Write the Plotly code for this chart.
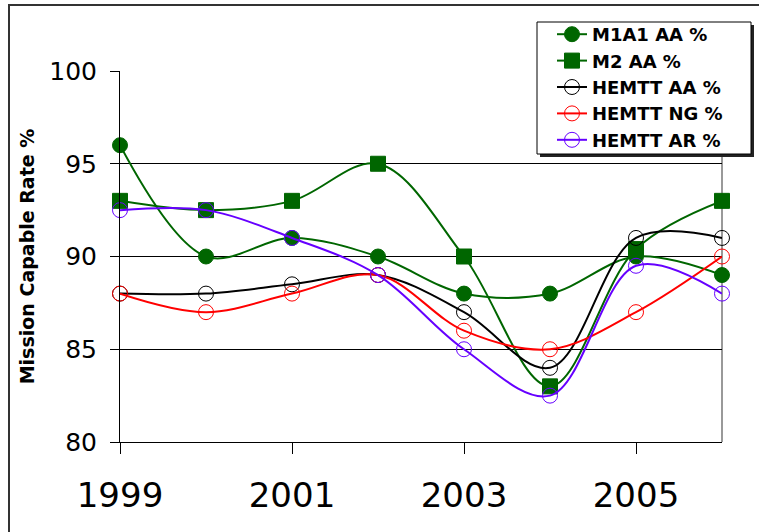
import plotly.graph_objects as go

years = [1999, 2000, 2001, 2002, 2003, 2004, 2005, 2006]

m1a1_aa = [96, 90, 91, 90, 88, 88, 90, 89]
m2_aa = [93, 92.5, 93, 95, 90, 83, 90.4, 93]
hemtt_aa = [88, 88, 88.5, 89, 87, 84, 91, 91]
hemtt_ng = [88, 87, 88, 89, 86, 85, 87, 90]
hemtt_ar = [92.5, 92.5, 91, 89, 85, 82.5, 89.5, 88]

GREEN = '#006600'
FONT = 'Verdana, DejaVu Sans, sans-serif'

series = [
    ('M1A1 AA %', m1a1_aa, GREEN, 'circle'),
    ('M2 AA %', m2_aa, GREEN, 'square'),
    ('HEMTT AA %', hemtt_aa, '#000000', 'circle-open'),
    ('HEMTT NG %', hemtt_ng, '#ff0000', 'circle-open'),
    ('HEMTT AR %', hemtt_ar, '#6600ff', 'circle-open'),
]

# plot area in pixels: x 120..722, y 71..442
PW, PH = 602, 371
def px_x(v):
    return (v - 120) / PW
def px_y(v):
    return (442 - v) / PH

fig = go.Figure()

for name, vals, color, symbol in series:
    fig.add_trace(go.Scatter(
        x=years, y=vals, name=name,
        mode='lines+markers',
        line=dict(color=color, width=2, shape='spline', smoothing=1),
        marker=dict(symbol=symbol, size=15, color=color,
                    line=dict(color=color, width=1)),
        cliponaxis=False,
    ))

# outer chart frame
fig.add_shape(type='rect', xref='paper', yref='paper',
              x0=px_x(9), x1=px_x(790),
              y0=px_y(560), y1=px_y(5),
              line=dict(color='#333333', width=2), layer='below')

# right plot border (gray)
fig.add_shape(type='line', xref='paper', yref='paper',
              x0=1, x1=1, y0=0, y1=1,
              line=dict(color='#999999', width=2), layer='below')

# legend box with shadow, drawn by hand
fig.add_shape(type='rect', xref='paper', yref='paper',
              x0=px_x(540), x1=px_x(754),
              y0=px_y(157), y1=px_y(25),
              line=dict(width=0), fillcolor='#222222', layer='above')
fig.add_shape(type='rect', xref='paper', yref='paper',
              x0=px_x(537), x1=px_x(751),
              y0=px_y(154), y1=px_y(22),
              line=dict(color='black', width=1), fillcolor='white', layer='above')

fig.update_layout(
    width=759, height=532,
    margin=dict(l=120, r=37, t=71, b=90, autoexpand=False),
    paper_bgcolor='white', plot_bgcolor='white',
    font=dict(family=FONT, color='black'),
    showlegend=True,
    legend=dict(
        x=px_x(552), y=px_y(16),
        xanchor='left', yanchor='top',
        bgcolor='rgba(0,0,0,0)', borderwidth=0,
        font=dict(family=FONT, size=18, color='black', weight='bold'),
        tracegroupgap=0, itemwidth=30,
    ),
    xaxis=dict(
        range=[1999, 2006], tickmode='array',
        tickvals=[1999, 2001, 2003, 2005],
        ticktext=['1999', '2001', '2003', '2005'],
        ticks='outside', ticklen=11, tickcolor='black',
        showline=True, linecolor='black', linewidth=1,
        showgrid=False, zeroline=False,
        ticklabelstandoff=12,
        tickfont=dict(size=34, family=FONT),
    ),
    yaxis=dict(
        range=[80, 100], dtick=5,
        ticks='outside', ticklen=9, tickcolor='black',
        showline=True, linecolor='black', linewidth=1,
        showgrid=True, gridcolor='black', gridwidth=1,
        zeroline=False,
        ticklabelstandoff=8,
        tickfont=dict(size=25, family=FONT),
        title=dict(text='Mission Capable Rate %', standoff=9,
                   font=dict(size=19, family=FONT, weight='bold')),
    ),
)

fig.write_html("out.html", config={'displayModeBar': False},
               post_script="document.body.style.margin='0';")
